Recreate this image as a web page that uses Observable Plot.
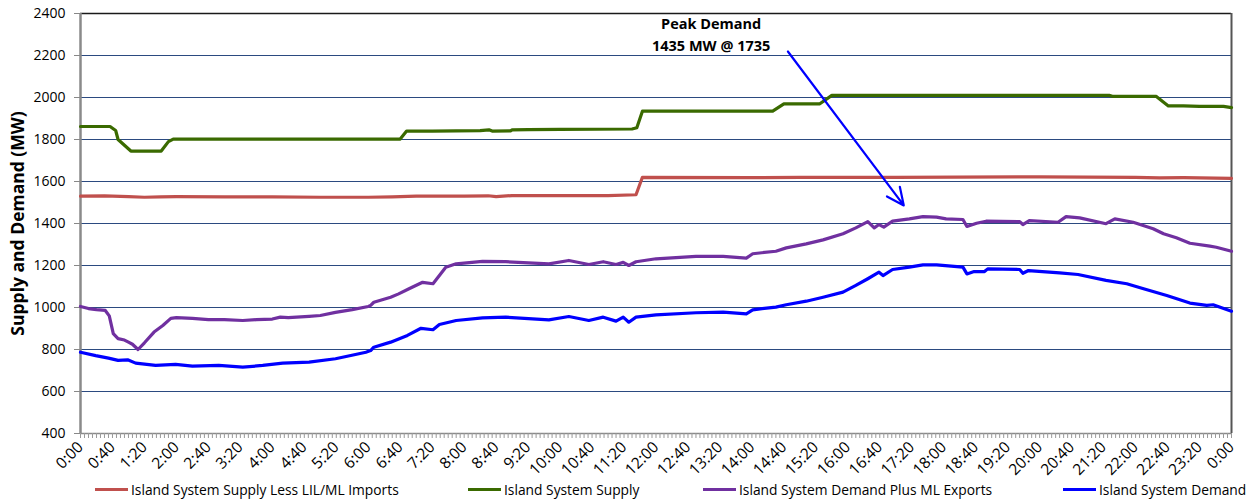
<!DOCTYPE html>
<html>
<head>
<meta charset="utf-8">
<script src="https://cdn.jsdelivr.net/npm/d3@7"></script>
<script src="https://cdn.jsdelivr.net/npm/@observablehq/plot@0.6"></script>
<style>
  html, body { margin: 0; padding: 0; background: #fff; }
  #wrap { width: 1249px; font-family: "Open Sans", sans-serif; }
  #legend { position: relative; width: 1249px; height: 23px; font-size: 13.8px; color: #000; }
  .item { position: absolute; top: 0; height: 23px; display: flex; align-items: center; white-space: nowrap; }
  .sw { display: inline-block; width: 33px; height: 3px; margin-right: 3px; }
</style>
</head>
<body>
<div id="wrap">
  <div id="chart"></div>
  <div id="legend"></div>
</div>
<script>
// ---- Data ----
const seriesNames = [
  "Island System Supply Less LIL/ML Imports",
  "Island System Supply",
  "Island System Demand Plus ML Exports",
  "Island System Demand"
];
const seriesColors = ["#C0504D", "#3A6A00", "#7030A0", "#0000FF"];

const supplyLessTimes = ["0:00","0:30","1:00","1:20","1:40","2:00","3:00","4:00","5:00","6:00","6:30","7:00","8:00","8:30","8:40","9:00","10:00","11:00","11:35","11:43","14:00","15:00","17:00","20:00","21:00","22:00","22:30","23:00","24:00"];
const supplyLessValues = [1530,1532,1528,1525,1527,1528,1527,1527,1525,1525,1527,1530,1530,1532,1528,1533,1533,1533,1537,1620,1618,1620,1620,1622,1621,1620,1617,1618,1615];

const supplyTimes = ["0:00","0:37","0:44","0:47","1:03","1:41","1:50","1:56","6:40","6:48","7:20","8:20","8:31","8:35","8:58","9:00","9:20","10:00","11:30","11:36","11:43","14:26","14:40","15:25","15:40","21:27","21:32","22:26","22:41","23:00","23:20","23:50","24:00"];
const supplyValues = [1862,1862,1843,1800,1745,1745,1790,1802,1802,1840,1840,1842,1846,1840,1841,1846,1847,1848,1850,1856,1935,1935,1970,1970,2010,2010,2005,2005,1960,1960,1958,1958,1952];

const demandPlusTimes = ["0:00","0:10","0:20","0:31","0:36","0:41","0:47","0:55","1:00","1:05","1:12","1:20","1:32","1:43","1:53","2:00","2:20","2:40","3:00","3:23","3:40","4:00","4:10","4:20","4:46","5:00","5:19","5:40","6:00","6:03","6:07","6:28","6:38","6:51","7:08","7:21","7:37","7:50","8:23","8:52","9:46","10:11","10:36","10:54","11:10","11:19","11:26","11:35","12:00","12:50","13:24","13:53","14:01","14:30","14:43","15:08","15:29","15:54","16:10","16:25","16:33","16:39","16:45","16:56","17:17","17:34","17:51","18:03","18:24","18:29","18:41","18:53","19:35","19:39","19:47","20:23","20:33","20:50","21:23","21:34","21:57","22:22","22:35","22:51","23:08","23:33","23:41","24:00"];
const demandPlusValues = [1005,995,990,986,960,876,852,845,835,825,800,832,883,914,948,952,948,942,942,938,942,945,954,952,958,962,977,990,1005,1010,1025,1049,1065,1089,1120,1113,1192,1208,1220,1218,1208,1224,1205,1218,1205,1215,1200,1218,1232,1243,1243,1235,1256,1268,1284,1303,1322,1351,1379,1409,1379,1395,1383,1411,1422,1433,1430,1422,1419,1386,1401,1411,1409,1395,1414,1406,1433,1427,1399,1422,1406,1375,1351,1332,1306,1292,1287,1268];

const demandTimes = ["0:00","0:19","0:35","0:47","0:59","1:09","1:34","1:59","2:20","2:53","3:23","3:48","4:13","4:46","5:19","5:44","5:57","6:03","6:07","6:28","6:49","7:06","7:21","7:29","7:50","8:23","8:52","9:46","10:11","10:36","10:54","11:10","11:19","11:26","11:35","12:00","12:50","13:24","13:53","14:01","14:30","14:43","15:08","15:29","15:54","16:10","16:25","16:39","16:44","16:56","17:17","17:34","17:51","18:24","18:29","18:38","18:51","18:55","19:35","19:39","19:46","20:25","20:48","21:23","21:49","22:10","22:39","23:08","23:29","23:37","24:00"];
const demandValues = [787,771,759,748,751,735,724,729,721,724,716,724,735,740,756,776,787,795,811,835,867,901,894,919,938,951,954,941,957,938,954,935,954,930,954,965,975,978,970,989,1002,1013,1030,1049,1073,1105,1137,1168,1152,1181,1192,1203,1203,1192,1160,1171,1171,1184,1181,1163,1176,1165,1157,1129,1113,1089,1057,1021,1010,1013,982];

const yTicks = [400,600,800,1000,1200,1400,1600,1800,2000,2200,2400];
const yLabel = "Supply and Demand (MW)";
const annotationLines = ["Peak Demand", "1435 MW @ 1735"];
const annotationAnchor = {time: "13:09", values: [2348, 2243]};
const arrowFrom = {time: "14:45", value: 2219};
const arrowTo = {time: "17:10", value: 1486};

// ---- Helpers ----
const toMin = s => { const [h, m] = s.split(":").map(Number); return h * 60 + m; };
const fmt = m => `${Math.floor((m % 1440) / 60)}:${String(m % 60).padStart(2, "0")}`;

const allTimes = [supplyLessTimes, supplyTimes, demandPlusTimes, demandTimes];
const allValues = [supplyLessValues, supplyValues, demandPlusValues, demandValues];
const rows = [];
allTimes.forEach((ts, i) => ts.forEach((t, j) => rows.push({t: toMin(t), v: allValues[i][j], s: seriesNames[i]})));

const majorTicks = d3.range(0, 1441, 40);
const minorTicks = d3.range(0, 1441, 5);

const W = 1249, H = 478;
const chart = Plot.plot({
  width: W,
  height: H,
  marginLeft: 80,
  marginRight: 18,
  marginTop: 13,
  marginBottom: 45,
  style: {fontFamily: "'Open Sans', sans-serif", fontSize: "13px", color: "#000", background: "#fff"},
  x: {domain: [0, 1440], axis: null},
  y: {domain: [400, 2400], axis: null},
  marks: [
    Plot.ruleY(yTicks.filter(d => d > 400 && d < 2400), {stroke: "#2B4A80", strokeWidth: 1}),
    Plot.ruleY([2400], {stroke: "#1a1a1a", strokeWidth: 1.5}),
    Plot.ruleX([1440], {stroke: "#555", strokeWidth: 2}),
    Plot.axisY({ticks: yTicks, tickSize: 6, tickPadding: 9, stroke: "#888", tickFormat: d => String(d), label: null, fontSize: 14}),
    Plot.ruleX([0], {stroke: "#8a8a8a", strokeWidth: 2.5}),
    Plot.ruleY([400], {stroke: "#8a8a8a", strokeWidth: 1.5}),
    Plot.axisX({ticks: minorTicks, tickSize: 5, stroke: "#999", text: null, label: null}),
    Plot.axisX({ticks: majorTicks, tickSize: 0, tickPadding: 11, tickRotate: -45, tickFormat: fmt, label: null, fontSize: 15.5}),
    Plot.text([yLabel], {frameAnchor: "left", rotate: -90, dx: -62, textAnchor: "middle", fontWeight: "bold", fontSize: 17.5, text: d => d}),
    ...seriesNames.map((name, i) => Plot.line(rows.filter(r => r.s === name), {x: "t", y: "v", stroke: seriesColors[i], strokeWidth: 3.2, strokeLinejoin: "round", strokeLinecap: "round"})),
    Plot.arrow([0], {x1: () => toMin(arrowFrom.time), y1: () => arrowFrom.value, x2: () => toMin(arrowTo.time), y2: () => arrowTo.value, stroke: "#0000FF", strokeWidth: 2.2, headLength: 13, headAngle: 50, bend: 0}),
    Plot.text(annotationLines, {x: () => toMin(annotationAnchor.time), y: (d, i) => annotationAnchor.values[i], text: d => d, fontWeight: "bold", fontSize: 14.5, fill: "#000"})
  ]
});
document.getElementById("chart").appendChild(chart);

// ---- Legend ----
const legendX = [95, 468, 703, 1063];
const legend = document.getElementById("legend");
seriesNames.forEach((name, i) => {
  const it = document.createElement("div");
  it.className = "item";
  it.style.left = legendX[i] + "px";
  it.innerHTML = `<span class="sw" style="background:${seriesColors[i]}"></span><span>${name}</span>`;
  legend.appendChild(it);
});
</script>
</body>
</html>
